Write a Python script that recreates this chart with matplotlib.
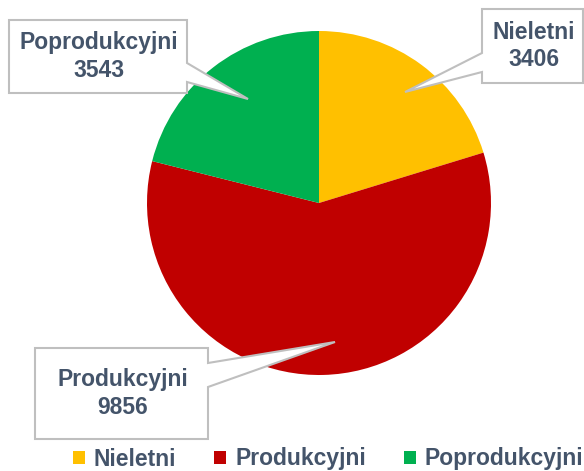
import matplotlib

matplotlib.use("Agg")
import matplotlib.pyplot as plt
from matplotlib.patches import Polygon

# Data
categories = ["Nieletni", "Produkcyjni", "Poprodukcyjni"]
values = [3406, 9856, 3543]
colors = ["#FFC000", "#C00000", "#00B050"]

TEXT = "#44546A"
EDGE = "#BFBFBF"
W, H = 584, 471

# callout layout in pixel coords (x, y from top): box, pointer base ys, tip
callouts = {
    "Nieletni": dict(box=(482, 9, 583, 83), side="left", base=(53, 72), tip=(405, 92)),
    "Poprodukcyjni": dict(box=(9, 20, 187, 93), side="right", base=(63, 82), tip=(248, 99)),
    "Produkcyjni": dict(box=(35, 348, 208, 439), side="right", base=(363, 387), tip=(335, 342)),
}

plt.rcParams["font.family"] = ["Liberation Sans", "DejaVu Sans"]

fig = plt.figure(figsize=(W / 100, H / 100), dpi=100)
ax = fig.add_axes([0, 0, 1, 1])


def fy(y):
    return H - y


wedges, _ = ax.pie(
    values,
    colors=colors,
    startangle=90,
    counterclock=False,
    center=(319, fy(203)),
    radius=172,
    frame=True,
)
ax.set_xlim(0, W)
ax.set_ylim(0, H)
ax.set_aspect("equal")
ax.axis("off")

for name, val in zip(categories, values):
    c = callouts[name]
    x0, y0, x1, y1 = c["box"]
    b0, b1 = c["base"]
    tx, ty = c["tip"]
    if c["side"] == "right":
        pts = [(x0, y0), (x1, y0), (x1, b0), (tx, ty), (x1, b1), (x1, y1), (x0, y1)]
    else:
        pts = [(x0, y0), (x1, y0), (x1, y1), (x0, y1), (x0, b1), (tx, ty), (x0, b0)]
    poly = Polygon([(px, fy(py)) for px, py in pts], closed=True,
                   facecolor="white", edgecolor=EDGE, linewidth=1.5, zorder=5)
    ax.add_patch(poly)
    ax.text((x0 + x1) / 2 + 1, fy((y0 + y1) / 2), f"{name}\n{val}",
            ha="center", va="center", fontsize=16.5, fontweight="bold",
            color=TEXT, linespacing=1.25, zorder=6)

leg = ax.legend(
    wedges, categories,
    loc="center", bbox_to_anchor=(328 / W, fy(459) / H),
    ncol=3, frameon=False, fontsize=16.5,
    handlelength=0.52, handleheight=0.52, handletextpad=0.4,
    columnspacing=1.65, borderpad=0,
)
for t in leg.get_texts():
    t.set_color(TEXT)
    t.set_fontweight("bold")

fig.savefig("out.png", dpi=100)
